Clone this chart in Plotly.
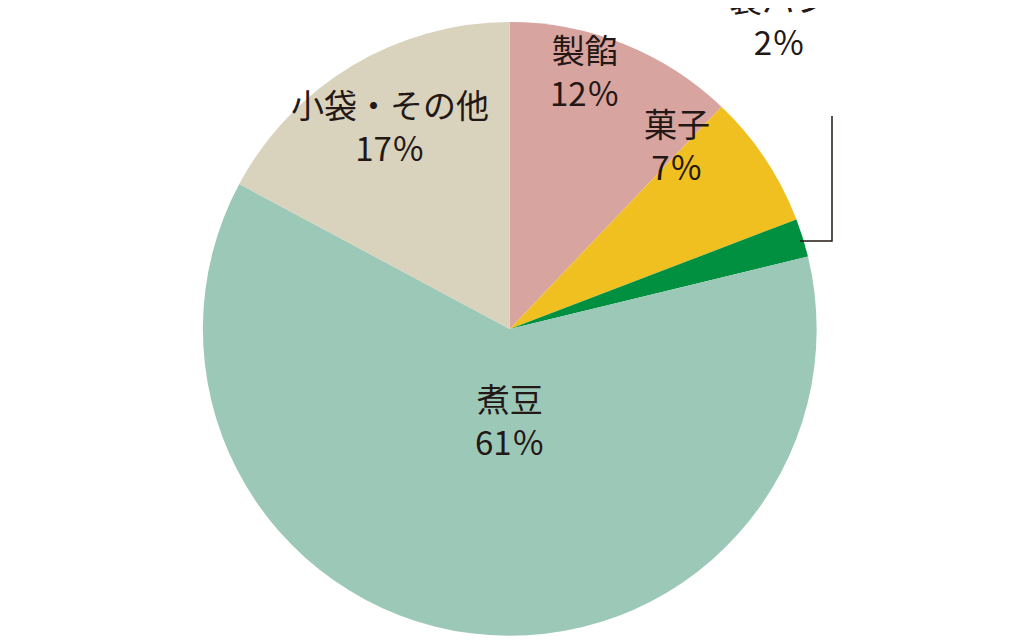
import plotly.graph_objects as go

labels = ["製餡", "菓子", "製パン", "煮豆", "小袋・その他"]
values = [12, 7, 2, 61, 17]
colors = ["#d8a49f", "#f0c020", "#009040", "#9cc8b8", "#d9d2bc"]

fig = go.Figure(go.Pie(
    labels=labels, values=values, sort=False, direction="clockwise", rotation=0,
    marker=dict(colors=colors, line=dict(width=0)), textinfo="none",
    hoverinfo="label+percent", showlegend=False,
    domain=dict(x=[0.190, 0.790], y=[0.019, 0.978]),
))

pos = {"製餡": (585, 120), "菓子": (712, 193), "製パン": (832, 68),
       "煮豆": (510, 468), "小袋・その他": (390, 175)}
for l, v in zip(labels, values):
    x, y = pos[l]
    x -= 8
    y -= 57
    fig.add_annotation(x=x/1024, y=1-y/640, xref="paper", yref="paper",
                       text=f"{l}<br>{v}％", showarrow=False, yanchor="middle",
                       font=dict(size=33, color="#231815", family="Noto Sans CJK JP"))

fig.add_shape(type="path", xref="paper", yref="paper",
              path=f"M {792/1024} {1-233/640} L {824/1024} {1-233/640} L {824/1024} {1-108/640}",
              line=dict(color="#231815", width=1.5))

fig.update_layout(width=1024, height=640, margin=dict(l=0, r=0, t=0, b=0),
                  paper_bgcolor="white", plot_bgcolor="white")
fig.write_html("out.html")
